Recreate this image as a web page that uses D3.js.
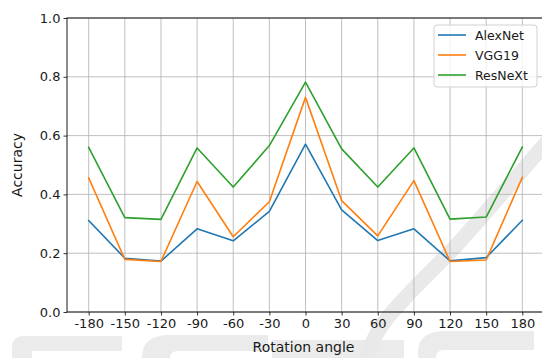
<!DOCTYPE html>
<html>
<head>
<meta charset="utf-8">
<script src="https://cdn.jsdelivr.net/npm/d3@7"></script>
<style>
  html, body { margin: 0; padding: 0; background: #fff; }
  svg { display: block; font-family: "DejaVu Sans", sans-serif; }
</style>
</head>
<body>
<svg id="chart" width="542" height="358"></svg>
<script>
// ---- data ----
const angles = [-180, -150, -120, -90, -60, -30, 0, 30, 60, 90, 120, 150, 180];
const alexnet = [0.311, 0.183, 0.173, 0.283, 0.242, 0.342, 0.571, 0.347, 0.243, 0.283, 0.174, 0.185, 0.312];
const vgg19   = [0.456, 0.179, 0.172, 0.444, 0.256, 0.375, 0.730, 0.379, 0.259, 0.447, 0.172, 0.177, 0.458];
const resnext = [0.560, 0.321, 0.315, 0.558, 0.425, 0.566, 0.782, 0.555, 0.425, 0.558, 0.316, 0.323, 0.561];
const seriesNames = ["AlexNet", "VGG19", "ResNeXt"];
const seriesColors = ["#1f77b4", "#ff7f0e", "#2ca02c"];
const yTicks = [0.0, 0.2, 0.4, 0.6, 0.8, 1.0];
const xLabel = "Rotation angle";
const yLabel = "Accuracy";

const series = [alexnet, vgg19, resnext];

const svg = d3.select("#chart");
const L = 67, T = 18, R = 544, B = 312;

// faint watermark (background decoration)
const wm = svg.append("g").attr("fill", "#ebebeb").attr("stroke", "none");
wm.append("path").attr("d", "M12,358 V348 Q12,336 24,336 H122 V351 H32 V358 Z");
wm.append("path").attr("d", "M142,358 V357 Q142,335 170,335 H268 V351 H178 Q170,351 170,358 Z");
wm.append("path").attr("d", "M272,358 V340 H404 V358 Z");
wm.append("path").attr("d", "M418,358 V352 Q418,331 446,331 H534 V350 H444 Q436,350 436,358 Z");
wm.append("path")
  .attr("fill", "none").attr("stroke", "#e9e9e9").attr("stroke-width", 15)
  .attr("d", d3.line().curve(d3.curveCatmullRom)([[552,136],[513,181],[453,249],[405,298],[380,328],[364,362]]));

const x = d3.scaleLinear().domain([-198, 198]).range([L, R]);
const y = d3.scaleLinear().domain([0, 1.0]).range([B, T]);

// grid
const grid = svg.append("g").attr("stroke", "#b0b0b0").attr("stroke-width", 0.8);
angles.forEach(a => grid.append("line").attr("x1", x(a)).attr("x2", x(a)).attr("y1", T).attr("y2", B));
yTicks.forEach(v => grid.append("line").attr("x1", L).attr("x2", R).attr("y1", y(v)).attr("y2", y(v)));

// lines
const line = d3.line().x((d, i) => x(angles[i])).y(d => y(d));
series.forEach((s, k) => {
  svg.append("path").datum(s)
    .attr("fill", "none")
    .attr("stroke", seriesColors[k])
    .attr("stroke-width", 1.6)
    .attr("stroke-linejoin", "round")
    .attr("stroke-linecap", "square")
    .attr("d", line);
});

// axes
const xAxis = d3.axisBottom(x).tickValues(angles).tickFormat(d => String(d)).tickSize(3.5).tickPadding(3).tickSizeOuter(0);
const yAxis = d3.axisLeft(y).tickValues(yTicks).tickFormat(d => d.toFixed(1)).tickSize(3.5).tickPadding(3).tickSizeOuter(0);
const gx = svg.append("g").attr("transform", `translate(0,${B})`).call(xAxis);
const gy = svg.append("g").attr("transform", `translate(${L},0)`).call(yAxis);
[gx, gy].forEach(g => {
  g.select(".domain").remove();
  g.selectAll("line").attr("stroke", "#000").attr("stroke-width", 0.8);
  g.selectAll("text").attr("fill", "#1a1a1a").style("font-size", "13px").style("font-family", "DejaVu Sans");
});

// spines
svg.append("rect").attr("x", L).attr("y", T).attr("width", R - L).attr("height", B - T)
  .attr("fill", "none").attr("stroke", "#000").attr("stroke-width", 0.9);

// axis labels
svg.append("text").attr("x", (L + R) / 2 - 2).attr("y", 352)
  .attr("text-anchor", "middle").style("font-size", "14px").attr("fill", "#1a1a1a").text(xLabel);
svg.append("text").attr("transform", `translate(22,${(T + B) / 2}) rotate(-90)`)
  .attr("text-anchor", "middle").style("font-size", "14px").attr("fill", "#1a1a1a").text(yLabel);

// legend
const lg = svg.append("g").attr("transform", "translate(434,25)");
lg.append("rect").attr("width", 103).attr("height", 62).attr("rx", 3)
  .attr("fill", "#fff").attr("fill-opacity", 0.8).attr("stroke", "#cccccc").attr("stroke-width", 0.9);
seriesNames.forEach((n, k) => {
  const yy = 10 + k * 20;
  lg.append("line").attr("x1", 4).attr("x2", 32).attr("y1", yy).attr("y2", yy)
    .attr("stroke", seriesColors[k]).attr("stroke-width", 1.6);
  lg.append("text").attr("x", 41).attr("y", yy).attr("dy", "0.36em")
    .style("font-size", "12.5px").attr("fill", "#1a1a1a").text(n);
});
</script>
</body>
</html>
